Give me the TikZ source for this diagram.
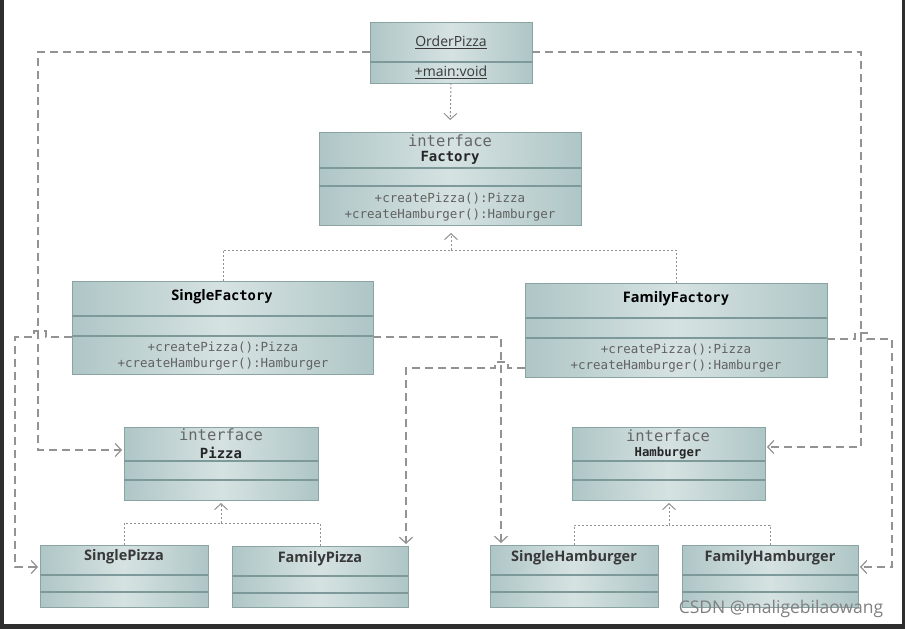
\documentclass[tikz,border=0pt]{standalone}
\usepackage{fontspec}
\setmainfont{Open Sans}
\newfontfamily\sansf{Open Sans}
\newfontfamily\monof{DejaVu Sans Mono}
\usetikzlibrary{arrows.meta}
\definecolor{edgec}{HTML}{AFC6C6}
\definecolor{midc}{HTML}{D6E2E2}
\definecolor{bordc}{HTML}{8AA4A4}
\definecolor{divc}{HTML}{7E9999}
\definecolor{linec}{HTML}{939393}
\definecolor{framec}{HTML}{2E2E2E}
\tikzset{
  cls/.style={draw=bordc, line width=1pt, left color=edgec, right color=edgec, middle color=midc, inner sep=0pt, outer sep=0pt},
  divl/.style={draw=divc, line width=1.4pt},
  dep/.style={draw=linec, line width=1.2pt, dash pattern=on 8pt off 5pt, -{Straight Barb[length=6pt,width=13pt]}, shorten >=2pt},
  real/.style={draw=linec, line width=1pt, dash pattern=on 2pt off 2pt},
  realarr/.style={draw=linec, line width=1pt, dash pattern=on 2pt off 2pt, -{Straight Barb[length=6pt,width=13pt]}},
  ttl/.style={font=\sansf\bfseries\fontsize{14.5}{16}\selectfont, text=black!78, inner sep=0pt},
  plain/.style={font=\sansf\fontsize{14}{16}\selectfont, text=black!78, inner sep=0pt},
  iface/.style={font=\monof\fontsize{15.5}{17}\selectfont, text=black!60, inner sep=0pt},
  meth/.style={font=\monof\fontsize{12.5}{14}\selectfont, text=black!62, inner sep=0pt},
  ititle/.style={font=\monof\bfseries\fontsize{14}{16}\selectfont, text=black!85, inner sep=0pt},
}
\begin{document}
\begin{tikzpicture}[x=1pt,y=-1pt]
\useasboundingbox (0,0) rectangle (905,629);
\fill[white] (0,0) rectangle (905,629);
\fill[framec] (0,0) rectangle (4,629);
\fill[framec] (902,0) rectangle (905,629);
\fill[framec] (0,624) rectangle (905,629);

\coordinate (oL) at (370,52);
\coordinate (oR) at (532,52);
\coordinate (c1) at (38,52);
\coordinate (c2) at (38,450);
\coordinate (c3) at (861,52);
\coordinate (c4) at (861,447);

% ---------- boxes ----------
\node[cls, minimum width=162pt, minimum height=61pt] (order) at (451,52.5) {};
\draw[divl] (370,62) -- (532,62);
\node[plain] (orderT) at (451,42) {\underline{OrderPizza}};
\node[plain] (orderM) at (451,72) {\underline{+main:void}};

\node[cls, minimum width=262pt, minimum height=93pt] (factory) at (450,178.5) {};
\draw[divl] (319,168) -- (581,168);
\draw[divl] (319,186) -- (581,186);
\node[iface] (factoryI) at (450,141) {interface};
\node[ititle] (factoryT) at (450,158) {Factory};
\node[meth] (factoryM1) at (450,199) {+createPizza():Pizza};
\node[meth] (factoryM2) at (450,215) {+createHamburger():Hamburger};

\node[cls, minimum width=301pt, minimum height=93pt] (sf) at (222.5,327.5) {};
\node[cls, minimum width=302pt, minimum height=94pt] (ff) at (676,330) {};

\node[cls, minimum width=194pt, minimum height=73pt] (pizza) at (221,463.5) {};
\node[cls, minimum width=193pt, minimum height=73pt] (ham) at (668.5,463.5) {};

\node[cls, minimum width=168pt, minimum height=62pt] (sp) at (124,576) {};
\node[cls, minimum width=176pt, minimum height=61pt] (fp) at (320,576.5) {};
\node[cls, minimum width=168pt, minimum height=62pt] (sh) at (574,576) {};
\node[cls, minimum width=176pt, minimum height=62pt] (fh) at (770,576) {};

% ---------- dependency lines from factories ----------
\coordinate (sfL) at (72,337);
\coordinate (sfR) at (373,337);
\coordinate (ffL) at (525,368);
\coordinate (ffR) at (827,339);

% SingleFactory -> SinglePizza
\draw[dep] (sfL) -- (46,337) -- (46,331) -- (34,331) -- (34,337) -- (15,337) -- (15,567) -- (sp.west |- 0,567);
% SingleFactory -> SingleHamburger
\draw[dep] (sfR) -- (501,337) -- (501,545);
% FamilyFactory -> FamilyPizza
\draw[dep] (ffL) -- (508,368) -- (508,362) -- (495,362) -- (495,368) -- (406,368) -- (406,546);
% FamilyFactory -> FamilyHamburger
\draw[dep] (ffR) -- (855,339) -- (855,333) -- (867,333) -- (867,339) -- (892,339) -- (892,567) -- (fh.east |- 0,567);

% OrderPizza -> Pizza / Hamburger
\draw[dep] (oL) -- (c1) -- (c2) -- (pizza.west |- c2);
\draw[dep] (oR) -- (c3) -- (c4) -- (ham.east |- c4);
% OrderPizza -> Factory
\draw[dep, dash pattern=on 2pt off 2pt, line width=1pt, shorten >=12pt] (order.south) -- (factory.north);

% redraw factories over the crossing line portion
\node[cls, minimum width=301pt, minimum height=93pt] (sf2) at (222.5,327.5) {};
\draw[divl] (72,316) -- (373,316);
\draw[divl] (72,336) -- (373,336);
\node[inner sep=0pt] (sfT) at (222,297) {{\sansf\bfseries\fontsize{14.5}{16}\selectfont Single}{\monof\bfseries\fontsize{13.8}{16}\selectfont Factory}};
\node[meth] (sfM1) at (223,348) {+createPizza():Pizza};
\node[meth] (sfM2) at (223,364) {+createHamburger():Hamburger};

\node[cls, minimum width=302pt, minimum height=94pt] (ff2) at (676,330) {};
\draw[divl] (525,318) -- (827,318);
\draw[divl] (525,338) -- (827,338);
\node[inner sep=0pt] (ffT) at (676,299) {{\sansf\bfseries\fontsize{14.5}{16}\selectfont Family}{\monof\bfseries\fontsize{13.8}{16}\selectfont Factory}};
\node[meth] (ffM1) at (676,350) {+createPizza():Pizza};
\node[meth] (ffM2) at (676,366) {+createHamburger():Hamburger};

% realization: factories -> Factory
\coordinate (fj) at (451,250);
\draw[real] (sf.north -| 223,0) -- (223,250) -- (fj);
\draw[real] (ff.north -| 676,0) -- (676,250) -- (fj);
\draw[realarr, shorten >=8pt] (fj) -- (factory.south -| fj);

% Pizza / Hamburger interfaces
\draw[divl] (124,461) -- (318,461);
\draw[divl] (124,480) -- (318,480);
\node[iface] (pizzaI) at (221,435) {interface};
\node[ititle] (pizzaT) at (221,453) {Pizza};

\draw[divl] (572,461) -- (765,461);
\draw[divl] (572,480) -- (765,480);
\node[iface] (hamI) at (668,436) {interface};
\node[ititle, font=\monof\bfseries\fontsize{12.3}{14}\selectfont] (hamT) at (668,453) {Hamburger};

\coordinate (pj) at (221,523);
\draw[real] (sp.north) -- (124,523) -- (pj);
\draw[real] (fp.north) -- (320,523) -- (pj);
\draw[realarr, shorten >=3pt] (pj) -- (pizza.south);

\coordinate (hj) at (669,525);
\draw[real] (sh.north) -- (574,525) -- (hj);
\draw[real] (fh.north) -- (770,525) -- (hj);
\draw[realarr, shorten >=3pt] (hj) -- (ham.south -| hj);

% bottom boxes dividers and titles
\draw[divl] (40,575) -- (208,575);
\draw[divl] (40,592) -- (208,592);
\node[ttl] (spT) at (124,557) {SinglePizza};

\draw[divl] (232,576) -- (408,576);
\draw[divl] (232,593) -- (408,593);
\node[ttl] (fpT) at (320,559) {FamilyPizza};

\draw[divl] (490,575) -- (658,575);
\draw[divl] (490,592) -- (658,592);
\node[ttl] (shT) at (574,558) {SingleHamburger};

\draw[divl] (682,575) -- (858,575);
\draw[divl] (682,592) -- (858,592);
\node[ttl] (fhT) at (770,558) {FamilyHamburger};

\node[font=\sansf\fontsize{17.5}{19}\selectfont, text=black!50, inner sep=0pt] (wm) at (781,609) {CSDN @maligebilaowang};
\end{tikzpicture}
\end{document}
